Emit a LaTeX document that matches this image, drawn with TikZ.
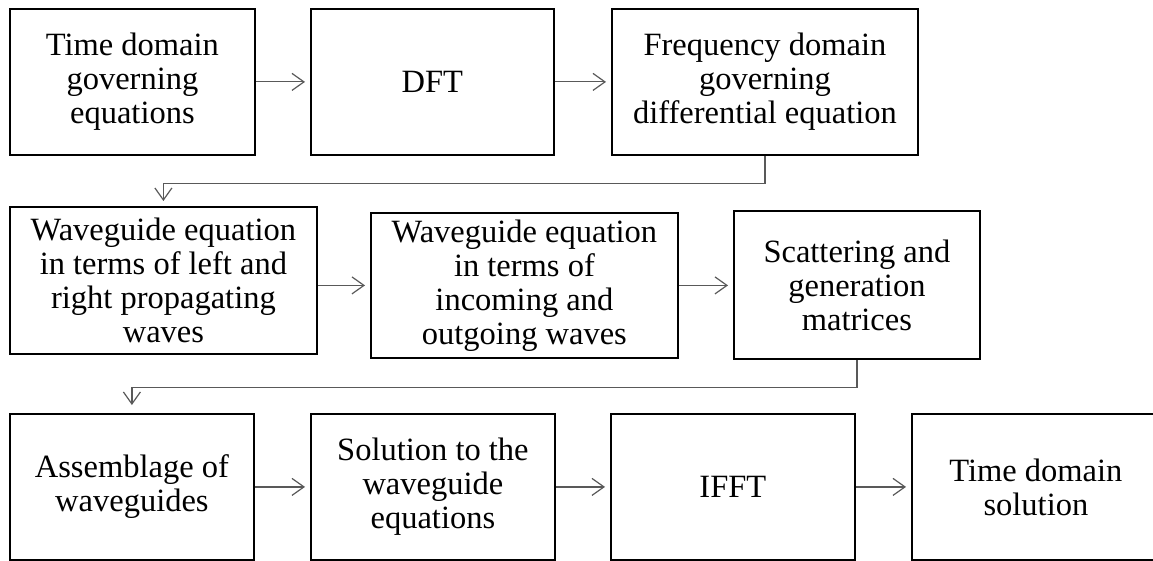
\documentclass[tikz,border=0pt]{standalone}
\usepackage{fontspec}
\setmainfont{Liberation Serif}
\usetikzlibrary{arrows.meta}
\begin{document}
\begin{tikzpicture}[x=1pt,y=-1pt,
  boxnode/.style={draw=black,line width=1.8pt,inner sep=0pt,align=center,
    anchor=north west,font=\fontsize{32.5}{34}\selectfont},
  conn/.style={draw=black!65,line width=1.2pt,
    -{Straight Barb[length=12pt,width=17pt,line width=1.2pt]},shorten >=5pt}]
\useasboundingbox (0,0) rectangle (1153,561);
% row 1
\node[boxnode,minimum width=245pt,minimum height=146pt] (b1) at (9,8) {Time domain\\governing\\equations};
\node[boxnode,minimum width=243pt,minimum height=146pt] (b2) at (310,8) {DFT};
\node[boxnode,minimum width=306pt,minimum height=146pt] (b3) at (611,8) {Frequency domain\\governing\\differential equation};
% row 2
\node[boxnode,minimum width=307pt,minimum height=147pt] (b4) at (9,206) {Waveguide equation\\in terms of left and\\right propagating\\waves};
\node[boxnode,minimum width=307pt,minimum height=145pt] (b5) at (370,212) {Waveguide equation\\in terms of\\incoming and\\outgoing waves};
\node[boxnode,minimum width=246pt,minimum height=148pt] (b6) at (733,210) {Scattering and\\generation\\matrices};
% row 3
\node[boxnode,minimum width=244pt,minimum height=146pt] (b7) at (9,413) {Assemblage of\\waveguides};
\node[boxnode,minimum width=244pt,minimum height=146pt] (b8) at (310,413) {Solution to the\\waveguide\\equations};
\node[boxnode,minimum width=244pt,minimum height=146pt] (b9) at (610,413) {IFFT};
\node[boxnode,minimum width=248pt,minimum height=146pt] (b10) at (911,413) {Time domain\\solution};
% connectors
\draw[conn] (b1.east) -- (b2.west);
\draw[conn] (b2.east) -- (b3.west);
\draw[conn] (b3.south) -- ++(0,28) -| (b4.north);
\draw[conn] (b4.east |- b5.west) -- (b5.west);
\draw[conn] (b5.east) -- (b6.west |- b5.east);
\draw[conn,shorten >=8pt] (b6.south) -- ++(0,28) -| (b7.north);
\draw[conn] (b7.east) -- (b8.west);
\draw[conn] (b8.east) -- (b9.west);
\draw[conn] (b9.east) -- (b10.west);
\end{tikzpicture}
\end{document}
